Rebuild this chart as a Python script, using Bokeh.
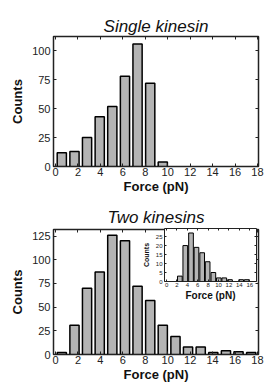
from bokeh.plotting import figure
from bokeh.models import LinearAxis, FixedTicker, Range1d
from bokeh.layouts import column
from bokeh.embed import file_html
from bokeh.resources import INLINE

# ---------------- data ----------------
single_centers = [0.56, 1.69, 2.81, 3.94, 5.06, 6.19, 7.31, 8.44, 9.56]
single_counts = [12, 13, 25, 43, 52, 78, 106, 72, 4]

two_centers = [0.56, 1.69, 2.81, 3.94, 5.06, 6.19, 7.31, 8.44, 9.56,
               10.69, 11.81, 12.94, 14.06, 15.19, 16.31, 17.44]
two_counts = [2, 31, 70, 87, 126, 120, 72, 57, 31, 19, 8, 8, 2, 4, 3, 2]

inset_centers = [2.55, 3.6, 4.7, 5.75, 6.85, 7.9, 9.0, 10.05, 11.1, 12.2, 14.35, 15.4]
inset_counts = [3, 20, 27, 19, 16, 11, 5, 2, 2, 1, 1, 1]

x_ticks = [0, 2, 4, 6, 8, 10, 12, 14, 16, 18]
single_y_ticks = [0, 25, 50, 75, 100]
two_y_ticks = [0, 25, 50, 75, 100, 125]
inset_x_ticks = [0, 2, 4, 6, 8, 10, 12, 14, 16]
inset_y_ticks = [0, 5, 10, 15, 20, 25]

FONT = "Liberation Sans"
BAR_FILL = "#b4b4b4"


def style(p, xt, yt, tick_size, label_size, lw=1.5, tick_in=3):
    p.outline_line_color = "#222222"
    p.outline_line_width = lw
    p.xgrid.visible = False
    p.ygrid.visible = False
    for ax in p.xaxis + p.yaxis:
        ax.axis_line_color = None
        ax.major_tick_in = tick_in
        ax.major_tick_out = 0
        ax.minor_tick_line_color = None
        ax.major_tick_line_color = "#222222"
        ax.major_label_text_font = FONT
        ax.major_label_text_font_size = tick_size
        ax.major_label_text_color = "#222222"
        ax.axis_label_text_font = FONT
        ax.axis_label_text_font_size = label_size
        ax.axis_label_text_font_style = "bold"
        ax.axis_label_text_color = "#111111"
    p.xaxis.ticker = FixedTicker(ticks=xt)
    p.yaxis.ticker = FixedTicker(ticks=yt)
    p.xaxis.major_label_standoff = 1
    p.yaxis.major_label_standoff = 3
    p.xaxis.axis_label_standoff = 0
    p.yaxis.axis_label_standoff = 4
    top = LinearAxis(ticker=FixedTicker(ticks=xt),
                     major_label_overrides={t: "" for t in xt},
                     major_label_standoff=0,
                     major_tick_in=tick_in, major_tick_out=0, axis_line_color=None,
                     minor_tick_line_color=None, major_tick_line_color="#222222")
    right = LinearAxis(ticker=FixedTicker(ticks=yt),
                       major_label_overrides={t: "" for t in yt},
                       major_label_standoff=0,
                       major_tick_in=tick_in, major_tick_out=0, axis_line_color=None,
                       minor_tick_line_color=None, major_tick_line_color="#222222")
    p.add_layout(top, "above")
    p.add_layout(right, "right")


def title_style(p, standoff=2):
    p.title.text_font = FONT
    p.title.text_font_size = "17px"
    p.title.text_font_style = "italic"
    p.title.text_color = "#111111"
    p.title.align = "center"
    p.title.standoff = standoff


# ---------------- top panel ----------------
p1 = figure(width=264, height=196, output_backend="svg", toolbar_location=None,
            title="Single kinesin",
            x_range=Range1d(-0.18, 18.09), y_range=Range1d(0, 112.5),
            min_border_left=53, min_border_right=6, min_border_top=36, min_border_bottom=29)
p1.vbar(x=single_centers, top=single_counts, width=0.82, bottom=0,
        fill_color=BAR_FILL, line_color="black", line_width=1.5)
p1.xaxis.axis_label = "Force (pN)"
p1.yaxis.axis_label = "Counts"
style(p1, x_ticks, single_y_ticks, "11px", "13px")
title_style(p1)

# ---------------- bottom panel ----------------
p2 = figure(width=264, height=188, output_backend="svg", toolbar_location=None,
            title="Two kinesins",
            x_range=Range1d(-0.18, 18.09), y_range=Range1d(0, 132),
            min_border_left=53, min_border_right=6, min_border_top=33, min_border_bottom=28)
p2.vbar(x=two_centers, top=two_counts, width=0.82, bottom=0,
        fill_color=BAR_FILL, line_color="black", line_width=1.5)
p2.xaxis.axis_label = "Force (pN)"
p2.yaxis.axis_label = "Counts"
style(p2, x_ticks, two_y_ticks, "11px", "13px")
title_style(p2, standoff=5)

# ---------------- inset (borders match the column's aligned borders) ----------------
ins = figure(width=151, height=77, output_backend="svg", toolbar_location=None,
             x_range=Range1d(-0.4, 17.3), y_range=Range1d(0, 29.5),
             min_border_left=53, min_border_right=6, min_border_top=2, min_border_bottom=20)
ins.vbar(x=inset_centers, top=inset_counts, width=0.9, bottom=0,
         fill_color=BAR_FILL, line_color="black", line_width=1)
ins.xaxis.axis_label = "Force (pN)"
ins.yaxis.axis_label = "Counts"
style(ins, inset_x_ticks, inset_y_ticks, "6px", "10px", lw=1, tick_in=2)
ins.xaxis.major_label_standoff = 1
ins.yaxis.major_label_standoff = 2
ins.yaxis.axis_label_standoff = 3
ins.yaxis.axis_label_text_font_size = "7px"
ins.background_fill_color = "white"
ins.border_fill_alpha = 0
ins.margin = (-158, 0, 0, 111)

layout = column(p1, p2, ins, spacing=0)
open("out.html", "w").write(file_html(layout, INLINE))
